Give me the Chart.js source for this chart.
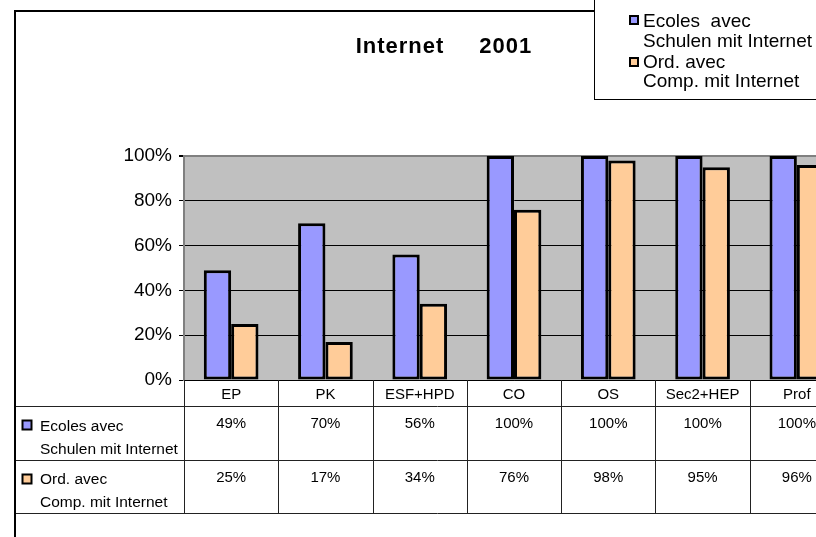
<!DOCTYPE html>
<html>
<head>
<meta charset="utf-8">
<title>Internet 2001</title>
<script src="https://cdn.jsdelivr.net/npm/chart.js@4/dist/chart.umd.min.js"></script>
<style>
  html, body { margin: 0; padding: 0; background: #fff; overflow: hidden; }
  #wrap { position: relative; width: 816px; height: 537px; overflow: hidden; }
  #wrap canvas { position: absolute; left: 0; top: 0; }
</style>
</head>
<body>
<div id="wrap"><canvas id="chart" width="860" height="537"></canvas></div>
<script>
const title = ["Internet", "2001"];
const categories = ["EP", "PK", "ESF+HPD", "CO", "OS", "Sec2+HEP", "Prof"];
const ecoles = [49, 70, 56, 100, 100, 100, 100];
const ordinateurs = [25, 17, 34, 76, 98, 95, 96];
const ecolesLabel = ["Ecoles avec", "Schulen mit Internet"];
const ordinateursLabel = ["Ord. avec", "Comp. mit Internet"];
const yTicks = [0, 20, 40, 60, 80, 100];

const FONT = '"Liberation Sans", Arial, Helvetica, sans-serif';
const BLUE = "#9999ff";
const ORANGE = "#ffcc99";
const PLOT_BG = "#c0c0c0";

function pct(v) {
  return v + "%";
}

function keySquare(ctx, cx, cy, size, color) {
  ctx.fillStyle = color;
  ctx.fillRect(cx - size / 2, cy - size / 2, size, size);
  ctx.strokeStyle = "#000";
  ctx.lineWidth = 2;
  ctx.strokeRect(cx - size / 2, cy - size / 2, size, size);
}

function line(ctx, x1, y1, x2, y2) {
  ctx.beginPath();
  ctx.moveTo(x1, y1);
  ctx.lineTo(x2, y2);
  ctx.stroke();
}

// grey plot background, white page
const plotBackground = {
  id: "plotBackground",
  beforeDraw(chart) {
    const { ctx, chartArea: a } = chart;
    ctx.save();
    ctx.fillStyle = "#fff";
    ctx.fillRect(0, 0, chart.width, chart.height);
    ctx.fillStyle = PLOT_BG;
    ctx.fillRect(a.left, a.top, a.right - a.left, a.bottom - a.top);
    ctx.restore();
  },
};

// title, data table under the x axis, outer frame and legend box
const decorations = {
  id: "decorations",
  afterDraw(chart) {
    const { ctx, chartArea: a } = chart;
    const x = chart.scales.x;
    const n = categories.length;
    const step = (x.right - x.left) / n;
    const headTop = a.bottom;
    const row1 = headTop + 26;
    const row2 = row1 + 54;
    const tableBottom = row2 + 53;
    const series = chart.data.datasets;

    ctx.save();

    // title
    ctx.fillStyle = "#000";
    ctx.font = "bold 22px " + FONT;
    ctx.letterSpacing = "1px";
    ctx.textBaseline = "alphabetic";
    ctx.textAlign = "left";
    const gap = 35;
    const w0 = ctx.measureText(title[0]).width;
    const w1 = ctx.measureText(title[1]).width;
    const tx = 444 - (w0 + gap + w1) / 2;
    ctx.fillText(title[0], tx, 53);
    ctx.fillText(title[1], tx + w0 + gap, 53);
    ctx.letterSpacing = "0px";

    // table grid
    ctx.strokeStyle = "#222";
    ctx.lineWidth = 1;
    for (let i = 0; i <= n; i++) {
      const xi = Math.round(x.left + i * step) + 0.5;
      line(ctx, xi, headTop, xi, tableBottom);
    }
    [row1, row2, tableBottom].forEach((y) => line(ctx, 15, y + 0.5, chart.width, y + 0.5));

    // header and values
    ctx.fillStyle = "#000";
    ctx.textAlign = "center";
    ctx.textBaseline = "middle";
    ctx.font = "15px " + FONT;
    categories.forEach((c, i) => {
      const cx = x.getPixelForValue(i);
      ctx.fillText(c, cx, headTop + 15);
      ctx.fillText(pct(series[0].data[i]), cx, row1 + 18);
      ctx.fillText(pct(series[1].data[i]), cx, row2 + 18);
    });

    // row labels with keys
    ctx.textAlign = "left";
    keySquare(ctx, 27, row1 + 19, 9, BLUE);
    keySquare(ctx, 27, row2 + 19, 9, ORANGE);
    ctx.fillStyle = "#000";
    ctx.font = "15.5px " + FONT;
    ctx.fillText(ecolesLabel[0], 40, row1 + 21);
    ctx.fillText(ecolesLabel[1], 40, row1 + 44);
    ctx.fillText(ordinateursLabel[0], 40, row2 + 20);
    ctx.fillText(ordinateursLabel[1], 40, row2 + 43);

    // outer frame
    ctx.strokeStyle = "#000";
    ctx.lineWidth = 2;
    line(ctx, 15, 11, chart.width, 11);
    line(ctx, 15, 10, 15, chart.height);

    // legend box
    ctx.fillStyle = "#fff";
    ctx.fillRect(594, -5, chart.width, 105);
    ctx.strokeStyle = "#000";
    ctx.lineWidth = 1;
    ctx.strokeRect(594.5, -5, chart.width, 104.5);
    ctx.font = "19px " + FONT;
    keySquare(ctx, 634, 20, 8, BLUE);
    keySquare(ctx, 634, 62, 8, ORANGE);
    ctx.fillStyle = "#000";
    ctx.textBaseline = "middle";
    ctx.fillText(ecolesLabel[0].replace(" ", "  "), 643, 22);
    ctx.fillText(ecolesLabel[1], 643, 42);
    ctx.fillText(ordinateursLabel[0], 643, 63);
    ctx.fillText(ordinateursLabel[1], 643, 82);

    ctx.restore();
  },
};

new Chart(document.getElementById("chart"), {
  type: "bar",
  data: {
    labels: categories,
    datasets: [
      {
        label: ecolesLabel.join(" "),
        data: ecoles,
        backgroundColor: BLUE,
        borderColor: "#000",
        borderWidth: 3,
        borderSkipped: false,
        categoryPercentage: 0.58,
        barPercentage: 1,
      },
      {
        label: ordinateursLabel.join(" "),
        data: ordinateurs,
        backgroundColor: ORANGE,
        borderColor: "#000",
        borderWidth: 3,
        borderSkipped: false,
        categoryPercentage: 0.58,
        barPercentage: 1,
      },
    ],
  },
  options: {
    responsive: false,
    animation: false,
    devicePixelRatio: 1,
    layout: {
      padding: { top: 156, right: 16, bottom: 0, left: 0 },
    },
    plugins: {
      legend: { display: false },
      title: { display: false },
      tooltip: { enabled: false },
    },
    scales: {
      x: {
        ticks: { display: false },
        grid: { display: false, drawTicks: false },
        border: { display: true, color: "#000", width: 1 },
        afterFit(scale) {
          scale.height = 157;
        },
      },
      y: {
        min: yTicks[0],
        max: yTicks[yTicks.length - 1],
        afterBuildTicks(scale) {
          scale.ticks = yTicks.map((v) => ({ value: v }));
        },
        ticks: {
          padding: 7,
          color: "#000",
          font: { family: FONT, size: 19 },
          callback: (v) => pct(v),
        },
        grid: {
          color: (c) => (c.tick && c.tick.value === 100 ? "#808080" : "#000"),
          lineWidth: (c) => (c.tick && c.tick.value === 100 ? 2 : 1),
          tickColor: "#000",
          tickLength: 5,
        },
        border: { display: true, color: "#808080", width: 2 },
        afterFit(scale) {
          scale.width = 184;
        },
      },
    },
  },
  plugins: [plotBackground, decorations],
});
</script>
</body>
</html>
